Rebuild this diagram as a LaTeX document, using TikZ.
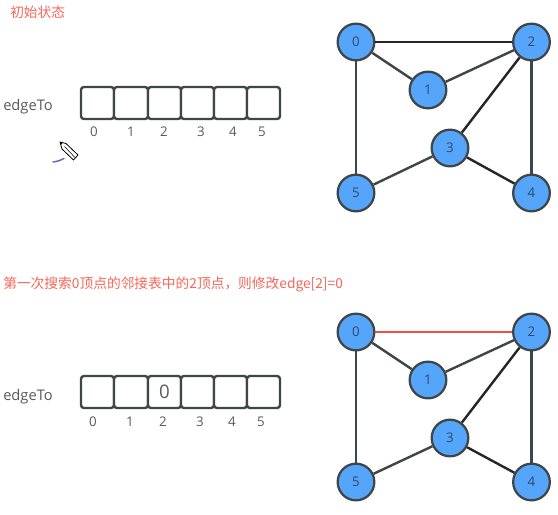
\documentclass[tikz,border=0pt]{standalone}
\usepackage{fontspec}
\setmainfont{Open Sans}
\newfontfamily\cjk{Noto Sans CJK SC}
\usepackage{xcolor}
\definecolor{nodeblue}{HTML}{55A5FB}
\definecolor{ink}{HTML}{404548}
\definecolor{lab}{HTML}{5A5A5A}
\definecolor{numtxt}{HTML}{2F4A6E}
\definecolor{redtxt}{HTML}{F8665A}
\definecolor{rededge}{HTML}{F0503C}
\definecolor{pen}{HTML}{6A64B8}
\tikzset{
  x=0.75pt,y=-0.75pt,
  vert/.style={circle,draw=ink,line width=1.7pt,fill=nodeblue,minimum size=27.5pt,inner sep=0pt,text=numtxt,font=\fontsize{10}{12}\selectfont},
  edgeline/.style={draw=ink,line width=1.8pt},
  darkedge/.style={draw=black!85,line width=1.8pt},
  cell/.style={draw=ink,line width=1.8pt,rounded corners=2.2pt,minimum height=24pt,inner sep=0pt,fill=white},
  idx/.style={text=lab,font=\fontsize{10}{12}\selectfont,inner sep=0pt},
  lbl/.style={text=lab,font=\fontsize{11}{12}\selectfont,inner sep=0pt},
  note/.style={text=redtxt,font=\cjk\fontsize{10.3}{12}\selectfont,inner sep=0pt,anchor=west},
}
\newcommand{\cellrow}[2]{%
  \node[cell,minimum width=24.75pt] (c#10) at (97.5,#2) {};
  \node[cell,minimum width=25.5pt] (c#11) at (131,#2) {};
  \node[cell,minimum width=24.75pt] (c#12) at (164.5,#2) {};
  \node[cell,minimum width=24.75pt] (c#13) at (197.5,#2) {};
  \node[cell,minimum width=24.75pt] (c#14) at (230.5,#2) {};
  \node[cell,minimum width=24.75pt] (c#15) at (263.5,#2) {};
}
\begin{document}
\begin{tikzpicture}
\useasboundingbox (0,0) rectangle (558,515);
\fill[white] (0,0) rectangle (558,515);

% titles
\node[note] (t1) at (10,12) {初始状态};
\node[note] (t2) at (3,284) {第一次搜索0顶点的邻接表中的2顶点，则修改edge[2]=0};

% top array
\node[lbl,anchor=west] (e1) at (3,107) {edgeTo};
\cellrow{a}{103}
\node[idx] (ia0) at (94,132) {0};
\node[idx] (ia1) at (131,132) {1};
\node[idx] (ia2) at (164,132) {2};
\node[idx] (ia3) at (201,132) {3};
\node[idx] (ia4) at (233,132) {4};
\node[idx] (ia5) at (262,132) {5};

% bottom array
\node[lbl,anchor=west] (e2) at (3,396.5) {edgeTo};
\cellrow{b}{392}
\node[text=lab,font=\fontsize{14}{16}\selectfont,inner sep=0pt] (v2) at (164.5,392) {0};
\node[idx] (ib0) at (93,422) {0};
\node[idx] (ib1) at (130,422) {1};
\node[idx] (ib2) at (163,422) {2};
\node[idx] (ib3) at (200,422) {3};
\node[idx] (ib4) at (232,422) {4};
\node[idx] (ib5) at (261,422) {5};

% top graph
\node[vert] (p0) at (356,42) {0};
\node[vert] (p1) at (428,90) {1};
\node[vert] (p2) at (531.5,42) {2};
\node[vert] (p3) at (450,148) {3};
\node[vert] (p4) at (531.5,193) {4};
\node[vert] (p5) at (356,193) {5};
\draw[darkedge] (p0) -- (p2);
\draw[edgeline] (p0) -- (p1);
\draw[edgeline] (p1) -- (p2);
\draw[edgeline] (p0) -- (p5);
\draw[darkedge] (p2) -- (p3);
\draw[edgeline] (p2) -- (p4);
\draw[darkedge] (p3) -- (p4);
\draw[edgeline] (p3) -- (p5);

% bottom graph
\node[vert] (q0) at (356,332) {0};
\node[vert] (q1) at (428,380) {1};
\node[vert] (q2) at (531.5,332) {2};
\node[vert] (q3) at (450,438) {3};
\node[vert] (q4) at (531.5,482) {4};
\node[vert] (q5) at (356,482) {5};
\draw[edgeline,draw=rededge] (q0) -- (q2);
\draw[edgeline] (q0) -- (q1);
\draw[edgeline] (q1) -- (q2);
\draw[edgeline] (q0) -- (q5);
\draw[darkedge] (q2) -- (q3);
\draw[edgeline] (q2) -- (q4);
\draw[darkedge] (q3) -- (q4);
\draw[edgeline] (q3) -- (q5);

% pencil cursor
\draw[black,line width=0.6pt,fill=white,line join=round] (60,142) -- (66,143.5) -- (78,155) -- (73.5,160) -- (62,149) -- cycle;
\fill[black] (60,142) -- (63,142.6) -- (60.7,145) -- cycle;
\draw[black,line width=0.4pt] (64.5,146.5) -- (75,157.5);
\draw[pen,line width=1.1pt,line cap=round] (53,162) .. controls (57,161.5) and (60,160.5) .. (64,158.5);
\end{tikzpicture}
\end{document}
